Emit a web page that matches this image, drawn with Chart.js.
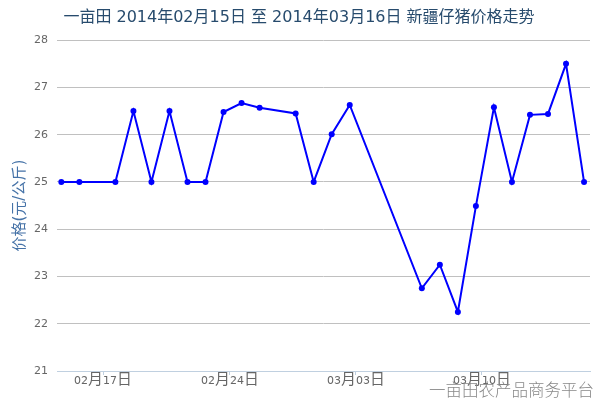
<!DOCTYPE html>
<html>
<head>
<meta charset="utf-8">
<script src="https://cdn.jsdelivr.net/npm/chart.js@4"></script>
<style>
@font-face { font-family: 'TickMix'; src: local('DejaVu Sans'), local('DejaVuSans'); unicode-range: U+0000-00FF; }
@font-face { font-family: 'TickMix'; src: local('Noto Sans CJK SC'), local('Noto Sans CJK SC Regular'), local('NotoSansCJKsc-Regular'); unicode-range: U+2E80-9FFF, U+FF00-FFEF; size-adjust: 135%; }
html,body{margin:0;padding:0;background:#fff;}
#c{display:block;}
</style>
</head>
<body>
<canvas id="c" width="600" height="400"></canvas>
<script>
// ---- data ----
const titleText = '一亩田 2014年02月15日 至 2014年03月16日 新疆仔猪价格走势';
const yTitle = '价格(元/公斤)';
const watermark = '一亩田农产品商务平台';
const startDate = '2014-02-15';
const dates = ['2014-02-15','2014-02-16','2014-02-18','2014-02-19','2014-02-20','2014-02-21','2014-02-22','2014-02-23','2014-02-24','2014-02-25','2014-02-26','2014-02-28','2014-03-01','2014-03-02','2014-03-03','2014-03-07','2014-03-08','2014-03-09','2014-03-10','2014-03-11','2014-03-12','2014-03-13','2014-03-14','2014-03-15','2014-03-16'];
const prices = [25,25,25,26.5,25,26.5,25,25,26.48,26.67,26.57,26.45,25,26.01,26.63,22.75,23.25,22.25,24.49,26.58,25,26.42,26.44,27.5,25];
const tickDates = ['2014-02-17','2014-02-24','2014-03-03','2014-03-10'];
const tickLabels = ['02月17日','02月24日','03月03日','03月10日'];
const yMin = 21, yMax = 28, yStep = 1;

// ---- helpers ----
const DAY = 86400000;
const t0 = Date.parse(startDate + 'T00:00:00Z');
const dayIndex = d => (Date.parse(d + 'T00:00:00Z') - t0) / DAY;
// tick labels sit at UTC midnight while points are at local (UTC+8) midnight
const tickPos = tickDates.map(d => dayIndex(d) + 8/24);
const points = dates.map((d, i) => ({x: dayIndex(d), y: prices[i]}));

const FONT = '"DejaVu Sans","Noto Sans CJK SC",sans-serif';
const TICKFONT = '"TickMix","DejaVu Sans","Noto Sans CJK SC",sans-serif';

const watermarkPlugin = {
  id: 'watermark',
  afterDraw(chart) {
    const ctx = chart.ctx;
    ctx.save();
    ctx.font = '300 16.5px "Noto Sans CJK SC","DejaVu Sans",sans-serif';
    ctx.fillStyle = '#888888';
    ctx.textAlign = 'right';
    ctx.textBaseline = 'middle';
    ctx.fillText(watermark, 594, 390);
    ctx.restore();
  }
};

function build() {
  new Chart(document.getElementById('c'), {
    type: 'line',
    data: {
      datasets: [{
        data: points,
        borderColor: '#0000ff',
        backgroundColor: '#0000ff',
        borderWidth: 2,
        pointRadius: 3,
        pointHoverRadius: 3,
        pointBorderWidth: 0,
        tension: 0,
        fill: false
      }]
    },
    options: {
      responsive: false,
      animation: false,
      events: [],
      layout: {padding: {left: 8, right: 10, top: 0, bottom: 0}},
      plugins: {
        legend: {display: false},
        tooltip: {enabled: false},
        title: {
          display: true,
          text: titleText,
          color: '#274b6d',
          font: {family: FONT, size: 16, weight: 'normal'},
          padding: {top: 8, bottom: 13}
        }
      },
      scales: {
        x: {
          type: 'linear',
          min: -0.24,
          max: 29.33,
          afterBuildTicks: s => { s.ticks = tickPos.map(v => ({value: v})); },
          afterFit: s => { s.height = 29; },
          ticks: {
            autoSkip: false,
            maxRotation: 0,
            padding: 0,
            color: '#666666',
            font: {family: TICKFONT, size: 11},
            callback: (v, i) => tickLabels[i]
          },
          grid: {drawOnChartArea: false, drawTicks: true, tickLength: 4, tickColor: '#C0D0E0'},
          border: {color: '#C0D0E0', width: 1}
        },
        y: {
          min: yMin,
          max: yMax,
          afterFit: s => { s.width = 49; },
          ticks: {
            stepSize: yStep,
            padding: 9,
            color: '#666666',
            font: {family: FONT, size: 11}
          },
          grid: {color: '#C0C0C0', drawTicks: false},
          border: {display: false},
          title: {
            display: true,
            text: yTitle,
            color: '#4572A7',
            font: {family: FONT, size: 15, weight: 'normal'},
            padding: {top: 3, bottom: 0}
          }
        }
      }
    },
    plugins: [watermarkPlugin]
  });
}

let built = false;
function go() { if (!built) { built = true; build(); } }
Promise.all([
  document.fonts.load('11px TickMix', '0123456789'),
  document.fonts.load('11px TickMix', '月日')
]).then(go, go);
setTimeout(go, 800);
</script>
</body>
</html>
